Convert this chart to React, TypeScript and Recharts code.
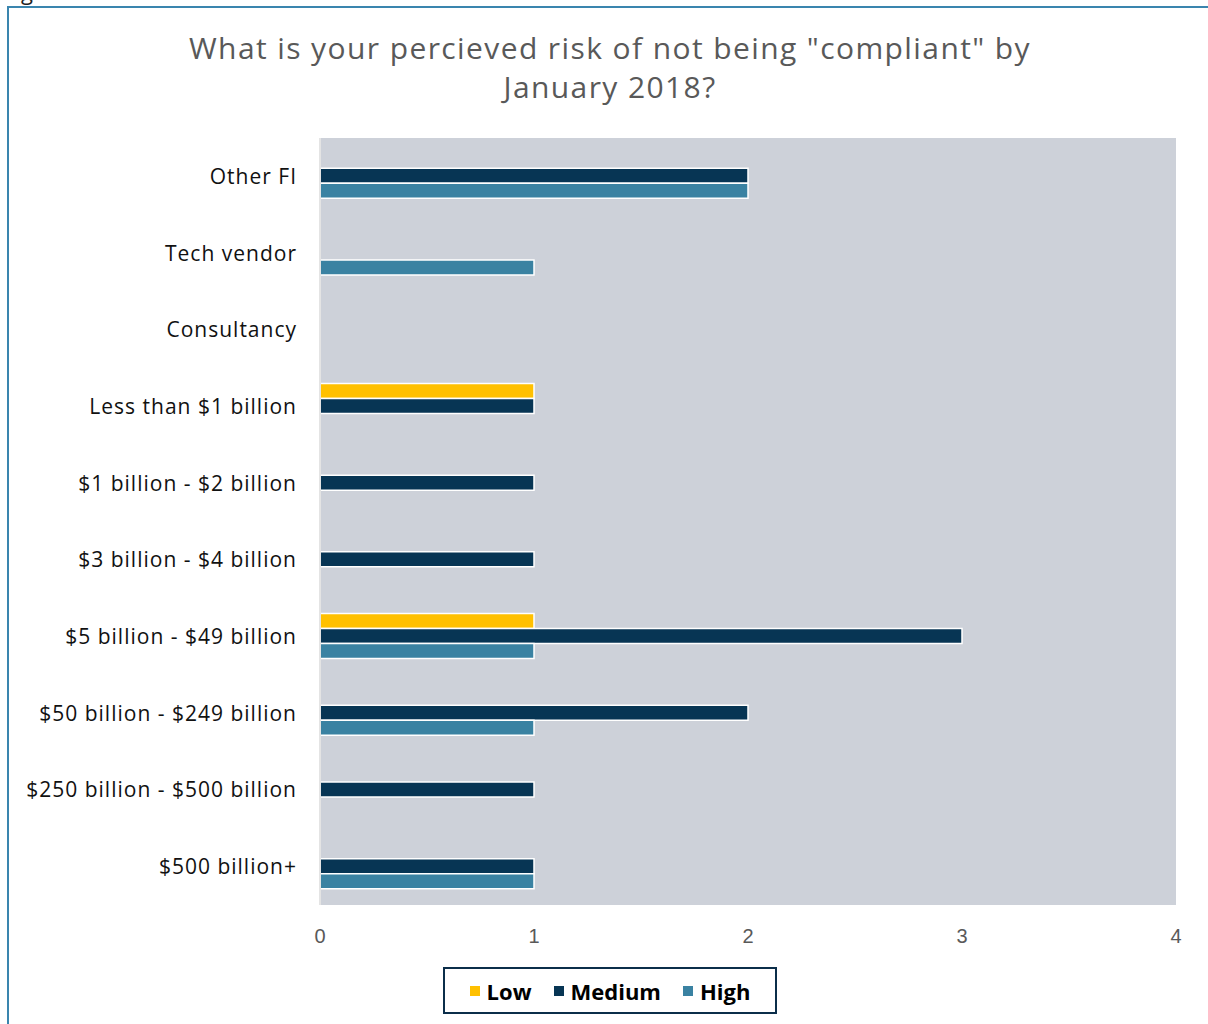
import { Bar, BarChart, CartesianGrid, XAxis, YAxis } from "recharts";

const categories = [
  "Other FI",
  "Tech vendor",
  "Consultancy",
  "Less than $1 billion",
  "$1 billion - $2 billion",
  "$3 billion - $4 billion",
  "$5 billion - $49 billion",
  "$50 billion - $249 billion",
  "$250 billion - $500 billion",
  "$500 billion+",
];

const low = [0, 0, 0, 1, 0, 0, 1, 0, 0, 0];
const medium = [2, 0, 0, 1, 1, 1, 3, 2, 1, 1];
const high = [2, 1, 0, 0, 0, 0, 1, 1, 0, 1];

const xTicks = [0, 1, 2, 3, 4];

const SERIES = [
  { key: "Low", color: "#FFC000" },
  { key: "Medium", color: "#073554" },
  { key: "High", color: "#3A82A2" },
];

const data = categories.map((name, i) => ({
  name,
  Low: low[i] || null,
  Medium: medium[i] || null,
  High: high[i] || null,
}));

const FONT = "'Open Sans', 'DejaVu Sans', sans-serif";

export default function App() {
  return (
    <div
      style={{
        position: "absolute",
        left: 0,
        top: 0,
        width: 1208,
        height: 1024,
        overflow: "hidden",
        background: "#fff",
        fontFamily: FONT,
      }}
    >
      <div
        style={{
          position: "absolute",
          left: 4,
          top: -24,
          fontSize: 22,
          color: "#222",
        }}
      >
        Figure 6
      </div>
      <div
        style={{
          position: "absolute",
          left: 7,
          top: 6,
          width: 1220,
          height: 1040,
          border: "2px solid #3A85AE",
        }}
      />
      <div
        style={{
          position: "absolute",
          left: 60,
          width: 1100,
          top: 28,
          textAlign: "center",
          fontSize: 30,
          letterSpacing: 1.4,
          lineHeight: "39px",
          color: "#595959",
        }}
      >
        What is your percieved risk of not being "compliant" by
        <br />
        January 2018?
      </div>
      <div style={{ position: "absolute", left: 0, top: 0 }}>
        <BarChart
          width={1208}
          height={1024}
          layout="vertical"
          data={data}
          margin={{ top: 138, right: 32, bottom: 89, left: 0 }}
          barCategoryGap="20%"
          barGap={0}
        >
          <CartesianGrid horizontal={false} vertical={false} fill="#CDD1D9" />
          <XAxis
            type="number"
            domain={[0, 4]}
            ticks={xTicks}
            height={30}
            axisLine={false}
            tickLine={false}
            tickMargin={18}
            tick={{ fill: "#595959", fontSize: 20, fontFamily: "'Liberation Sans Narrow', 'Liberation Sans', sans-serif" }}
          />
          <YAxis
            type="category"
            dataKey="name"
            width={320}
            axisLine={{ stroke: "#e4e4e4", strokeWidth: 2 }}
            tickLine={false}
            tickSize={0}
            tickMargin={23}
            tick={{ fill: "#111", fontSize: 21, fontFamily: FONT, letterSpacing: 1 }}
          />
          {SERIES.map((s) => (
            <Bar
              key={s.key}
              dataKey={s.key}
              fill={s.color}
              stroke="#ffffff"
              strokeWidth={1.5}
              isAnimationActive={false}
            />
          ))}
        </BarChart>
      </div>
      <div
        style={{
          position: "absolute",
          left: 443,
          top: 967,
          width: 330,
          height: 43,
          border: "2px solid #0B2E4A",
          display: "flex",
          alignItems: "center",
          justifyContent: "center",
          gap: 22,
          fontSize: 22,
          fontWeight: 700,
          color: "#000",
        }}
      >
        {SERIES.map((s) => (
          <span key={s.key} style={{ display: "inline-flex", alignItems: "center", gap: 7 }}>
            <span style={{ width: 10, height: 10, background: s.color, display: "inline-block" }} />
            {s.key}
          </span>
        ))}
      </div>
    </div>
  );
}
